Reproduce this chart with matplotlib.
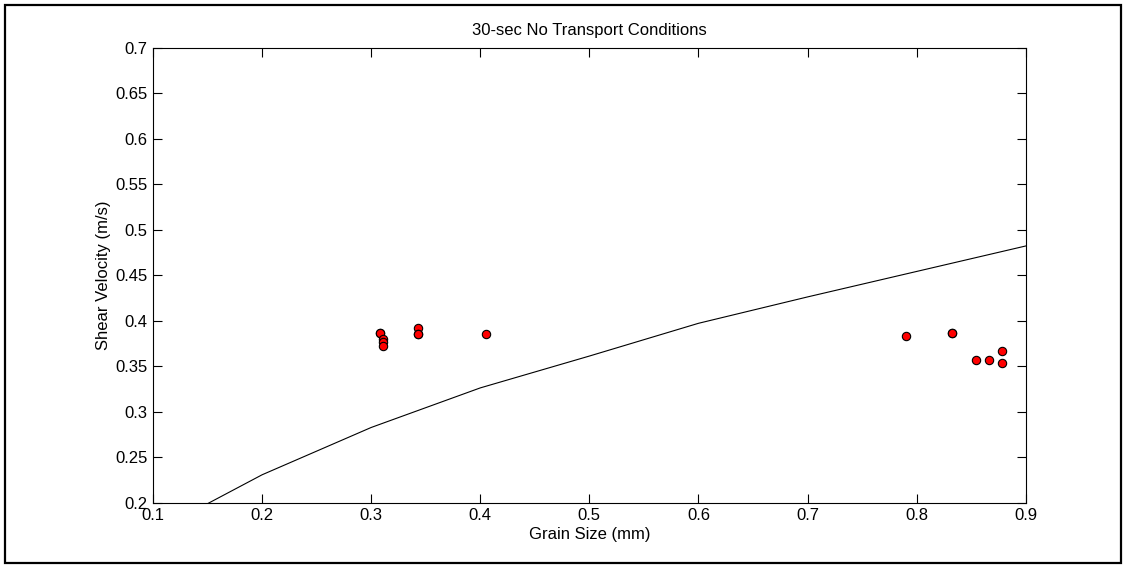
import numpy as np
from matplotlib import pyplot as plt
from matplotlib.patches import Rectangle

# threshold curve (grain size in mm, shear velocity in m/s)
curve_d = [0.1, 0.2, 0.3, 0.4, 0.5, 0.6, 0.7, 0.8, 0.9]
curve_u = [0.167, 0.2305, 0.2825, 0.326, 0.361, 0.397, 0.426, 0.454, 0.482]

# measured no-transport runs
grain_d = [0.3077, 0.3077, 0.311, 0.311, 0.311, 0.3428, 0.3428, 0.3428, 0.4049,
           0.790, 0.8327, 0.8327, 0.8547, 0.866, 0.8783, 0.8783]
shear_u = [0.3858, 0.3858, 0.380, 0.3765, 0.3718, 0.3913, 0.3854, 0.3854, 0.385,
           0.3825, 0.3858, 0.3858, 0.3567, 0.3567, 0.3667, 0.3538]

plt.rcParams['font.family'] = ['Liberation Sans', 'DejaVu Sans']

fig = plt.figure(figsize=(11.27, 5.65), dpi=100)
ax = fig.add_axes([0.1358, 0.1106, 0.9101 - 0.1358, 0.9156 - 0.1106])

ax.plot(curve_d, curve_u, color='black', lw=0.8)
ax.scatter(grain_d, shear_u, s=36, c='red', edgecolors='black', linewidths=0.8, zorder=3)

ax.set_xlim(0.1, 0.9)
ax.set_ylim(0.2, 0.7)
ax.set_xticks(np.arange(0.1, 0.91, 0.1))
ax.set_xticklabels(['0.1', '0.2', '0.3', '0.4', '0.5', '0.6', '0.7', '0.8', '0.9'])
ax.set_yticks(np.arange(0.2, 0.701, 0.05))
ax.set_yticklabels(['0.2', '0.25', '0.3', '0.35', '0.4', '0.45', '0.5', '0.55', '0.6', '0.65', '0.7'])
ax.tick_params(direction='in', length=6.5, width=0.8, top=True, right=True,
               labelsize=12, pad=4)
for sp in ax.spines.values():
    sp.set_linewidth(0.8)

ax.set_title('30-sec No Transport Conditions', fontsize=12, pad=9)
ax.set_xlabel('Grain Size (mm)', fontsize=12, labelpad=3)
ax.set_ylabel('Shear Velocity (m/s)', fontsize=12, labelpad=3)

# frame around the whole figure
fig.patches.append(Rectangle((5 / 1127, 2 / 565), 1116 / 1127, 558 / 565,
                             transform=fig.transFigure, fill=False,
                             edgecolor='black', lw=1.6))

plt.savefig('out.png', dpi=100)
